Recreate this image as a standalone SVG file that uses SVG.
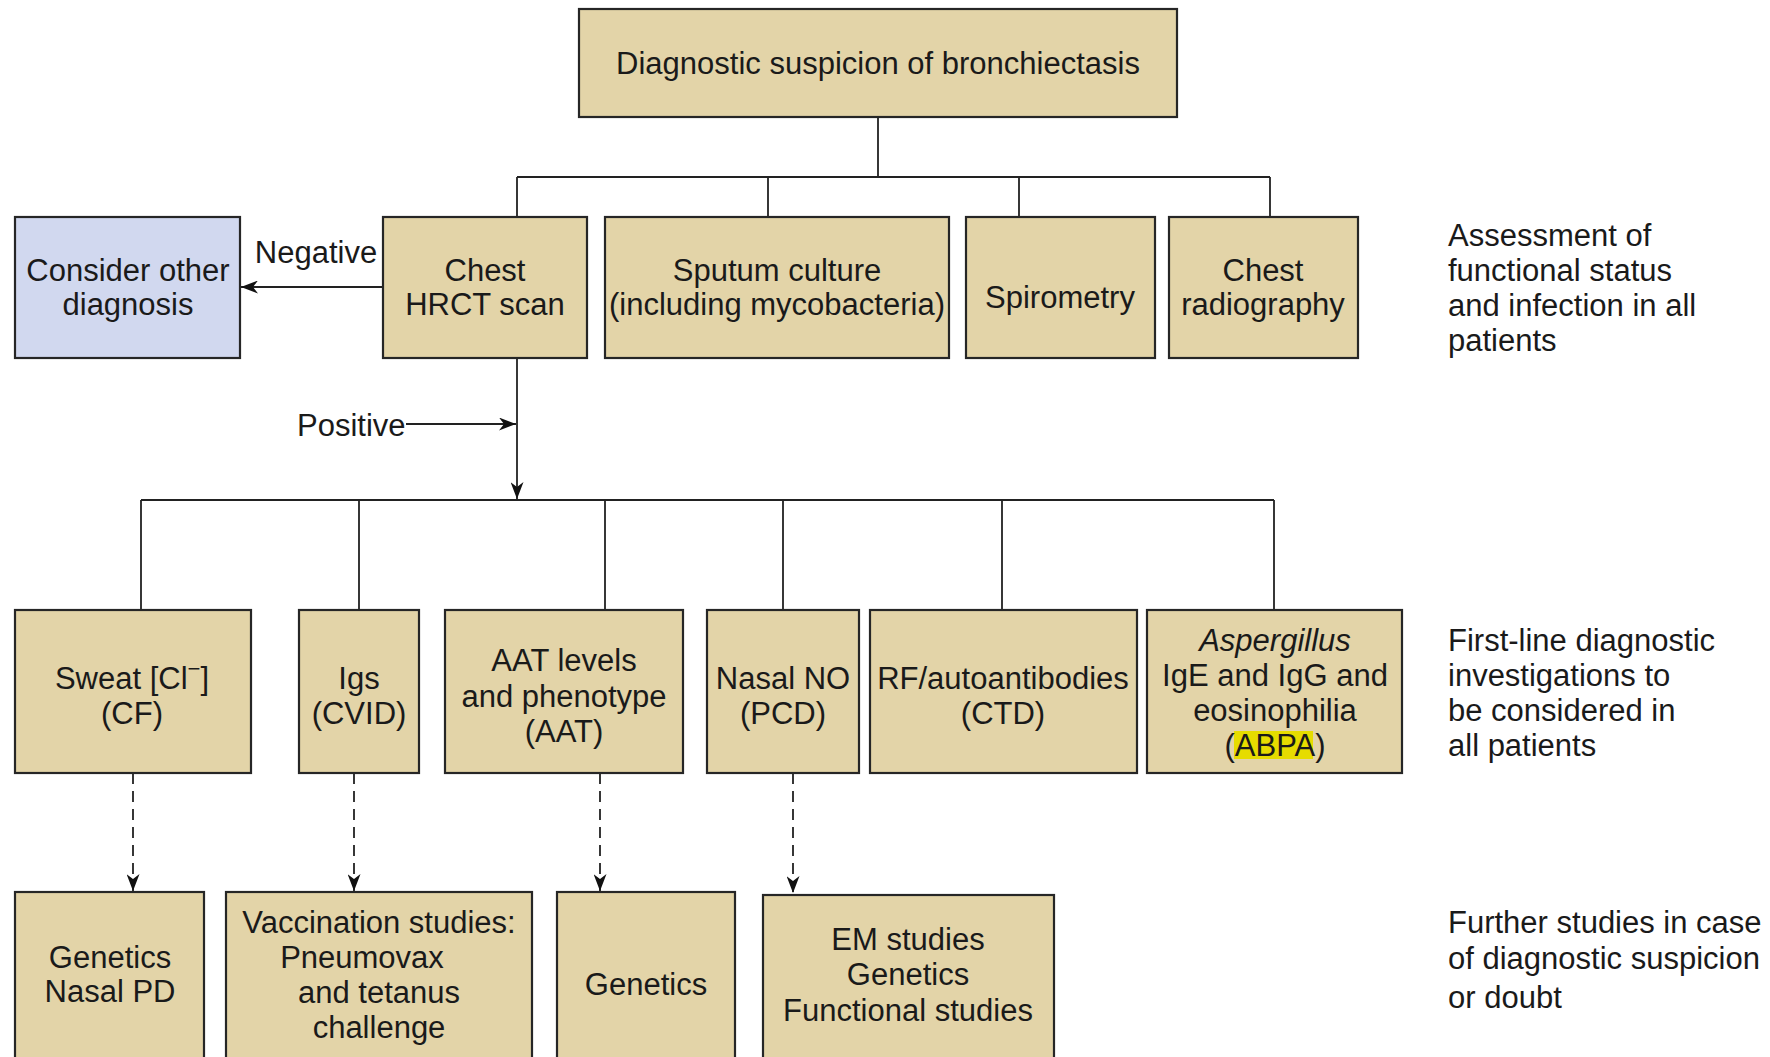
<svg xmlns="http://www.w3.org/2000/svg" width="1770" height="1057" viewBox="0 0 1770 1057">
<defs>
<style>
.box{fill:#e3d4a8;stroke:#262626;stroke-width:2.2}
.blue{fill:#d1d8ef;stroke:#262626;stroke-width:2.2}
.t{font-family:"Liberation Sans",Arial,sans-serif;font-size:31px;fill:#1a1a1a}
.c{text-anchor:middle}
.ln{fill:none;stroke:#222;stroke-width:1.8}
.dash{fill:none;stroke:#222;stroke-width:1.8;stroke-dasharray:11 7}
</style>
<marker id="ah" viewBox="0 0 17 13" refX="17" refY="6.5" markerWidth="17" markerHeight="13" markerUnits="userSpaceOnUse" orient="auto">
<path d="M0,0 L17,6.5 L0,13 L5,6.5 z" fill="#111"/>
</marker>
</defs>
<rect width="1770" height="1057" fill="#fff"/>

<g id="connectors">
<path class="ln" d="M878,117 V177 M517,177 H1270 M517,177 V217 M768,177 V217 M1019,177 V217 M1270,177 V217"/>
<line class="ln" x1="383" y1="287" x2="241" y2="287" marker-end="url(#ah)"/>
<line class="ln" x1="517" y1="358" x2="517" y2="499" marker-end="url(#ah)"/>
<line class="ln" x1="406" y1="424" x2="516" y2="424" marker-end="url(#ah)"/>
<path class="ln" d="M141,500 H1274 M141,500 V610 M359,500 V610 M605,500 V610 M783,500 V610 M1002,500 V610 M1274,500 V610"/>
<line class="dash" x1="133" y1="773" x2="133" y2="891" marker-end="url(#ah)"/>
<line class="dash" x1="354" y1="773" x2="354" y2="891" marker-end="url(#ah)"/>
<line class="dash" x1="600" y1="773" x2="600" y2="891" marker-end="url(#ah)"/>
<line class="dash" x1="793" y1="773" x2="793" y2="893" marker-end="url(#ah)"/>
</g>

<g id="labels">
<text class="t c" x="316" y="263">Negative</text>
<text class="t" x="297" y="436">Positive</text>
</g>

<g id="n-top"><rect class="box" x="579" y="9" width="598" height="108"/>
<text class="t c" x="878" y="74">Diagnostic suspicion of bronchiectasis</text></g>

<g id="n-consider"><rect class="blue" x="15" y="217" width="225" height="141"/>
<text class="t c" x="128" y="281">Consider other</text><text class="t c" x="128" y="315">diagnosis</text></g>

<g id="n-hrct"><rect class="box" x="383" y="217" width="204" height="141"/>
<text class="t c" x="485" y="281">Chest</text><text class="t c" x="485" y="315">HRCT scan</text></g>

<g id="n-sputum"><rect class="box" x="605" y="217" width="344" height="141"/>
<text class="t c" x="777" y="281">Sputum culture</text><text class="t c" x="777" y="315">(including mycobacteria)</text></g>

<g id="n-spiro"><rect class="box" x="966" y="217" width="189" height="141"/>
<text class="t c" x="1060" y="308">Spirometry</text></g>

<g id="n-radio"><rect class="box" x="1169" y="217" width="189" height="141"/>
<text class="t c" x="1263" y="281">Chest</text><text class="t c" x="1263" y="315">radiography</text></g>

<g id="side-1">
<text class="t" x="1448" y="246">Assessment of</text>
<text class="t" x="1448" y="281">functional status</text>
<text class="t" x="1448" y="316">and infection in all</text>
<text class="t" x="1448" y="351">patients</text>
</g>

<g id="n-sweat"><rect class="box" x="15" y="610" width="236" height="163"/>
<text class="t c" x="132" y="689">Sweat [Cl<tspan font-size="22" dy="-13">−</tspan><tspan dy="13">]</tspan></text><text class="t c" x="132" y="724">(CF)</text></g>

<g id="n-igs"><rect class="box" x="299" y="610" width="120" height="163"/>
<text class="t c" x="359" y="689">Igs</text><text class="t c" x="359" y="724">(CVID)</text></g>

<g id="n-aat"><rect class="box" x="445" y="610" width="238" height="163"/>
<text class="t c" x="564" y="671">AAT levels</text><text class="t c" x="564" y="707">and phenotype</text><text class="t c" x="564" y="742">(AAT)</text></g>

<g id="n-nasal"><rect class="box" x="707" y="610" width="152" height="163"/>
<text class="t c" x="783" y="689">Nasal NO</text><text class="t c" x="783" y="724">(PCD)</text></g>

<g id="n-rf"><rect class="box" x="870" y="610" width="267" height="163"/>
<text class="t c" x="1003" y="689">RF/autoantibodies</text><text class="t c" x="1003" y="724">(CTD)</text></g>

<g id="n-asp"><rect class="box" x="1147" y="610" width="255" height="163"/>
<rect x="1234" y="731" width="79" height="28" fill="#e6dc00"/>
<text class="t c" x="1275" y="651" font-style="italic">Aspergillus</text><text class="t c" x="1275" y="686">IgE and IgG and</text><text class="t c" x="1275" y="721">eosinophilia</text><text class="t c" x="1275" y="756">(ABPA)</text></g>

<g id="side-2">
<text class="t" x="1448" y="651">First-line diagnostic</text>
<text class="t" x="1448" y="686">investigations to</text>
<text class="t" x="1448" y="721">be considered in</text>
<text class="t" x="1448" y="756">all patients</text>
</g>

<g id="n-gen1"><rect class="box" x="15" y="892" width="189" height="180"/>
<text class="t c" x="110" y="968">Genetics</text><text class="t c" x="110" y="1002">Nasal PD</text></g>

<g id="n-vacc"><rect class="box" x="226" y="892" width="306" height="180"/>
<text class="t c" x="379" y="933">Vaccination studies:</text><text class="t c" x="362" y="968">Pneumovax</text><text class="t c" x="379" y="1003">and tetanus</text><text class="t c" x="379" y="1038">challenge</text></g>

<g id="n-gen2"><rect class="box" x="557" y="892" width="178" height="180"/>
<text class="t c" x="646" y="995">Genetics</text></g>

<g id="n-em"><rect class="box" x="763" y="895" width="291" height="180"/>
<text class="t c" x="908" y="950">EM studies</text><text class="t c" x="908" y="985">Genetics</text><text class="t c" x="908" y="1021">Functional studies</text></g>

<g id="side-3">
<text class="t" x="1448" y="933">Further studies in case</text>
<text class="t" x="1448" y="969">of diagnostic suspicion</text>
<text class="t" x="1448" y="1008">or doubt</text>
</g>
</svg>
